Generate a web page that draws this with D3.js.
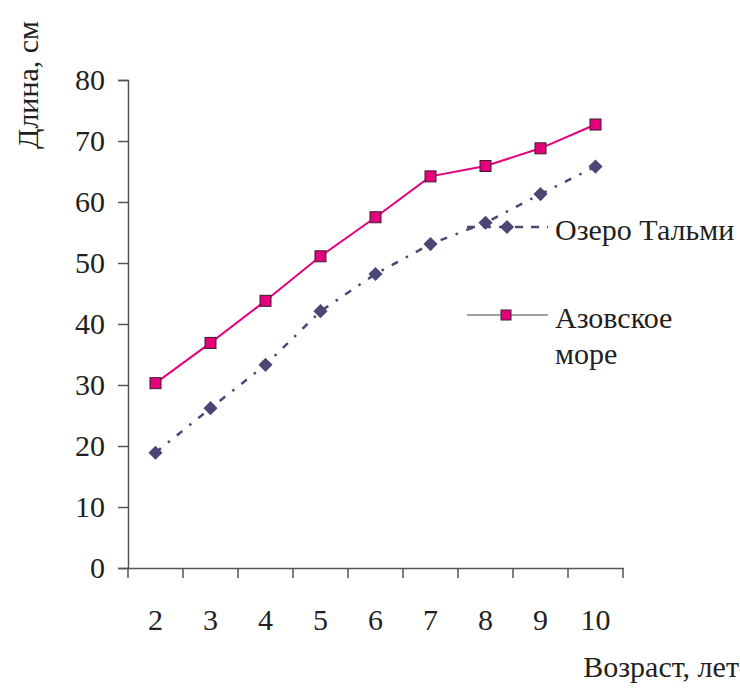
<!DOCTYPE html>
<html>
<head>
<meta charset="utf-8">
<script src="https://cdn.jsdelivr.net/npm/d3@7"></script>
<style>
  body { margin: 0; background: #fff; }
  svg text { font-family: 'Liberation Serif', 'Times New Roman', 'DejaVu Serif', serif !important; fill: #231f20; }
</style>
</head>
<body>
<svg id="chart" width="740" height="688"></svg>
<script>
var ages = ["2", "3", "4", "5", "6", "7", "8", "9", "10"];
var azov = [30.3, 36.9, 43.8, 51.1, 57.5, 64.2, 65.9, 68.8, 72.7];
var talmi = [18.9, 26.2, 33.3, 42.1, 48.2, 53.1, 56.6, 61.3, 65.8];
var yTicks = [0, 10, 20, 30, 40, 50, 60, 70, 80];
var seriesNames = ["Озеро Тальми", "Азовское море"];

var svg = d3.select("#chart");
var axisColor = "#555";
var serif = "'Liberation Serif', 'Times New Roman', serif";
var fontSize = 30;

var x = d3.scaleBand().domain(ages).range([128, 623]);
var y = d3.scaleLinear().domain([0, 80]).range([568, 80]);

// y axis
var yAxis = svg.append("g")
    .attr("transform", "translate(128,0)")
    .call(d3.axisLeft(y).tickValues(yTicks).tickSize(10).tickPadding(13));
yAxis.attr("font-family", serif).attr("font-size", fontSize);
yAxis.select(".domain").attr("stroke", axisColor).attr("stroke-width", 1.5);
yAxis.selectAll(".tick line").attr("stroke", axisColor).attr("stroke-width", 1.5);
yAxis.selectAll(".tick text").attr("fill", "#231f20");

// x axis (labels at band centres, ticks at band edges)
var xAxis = svg.append("g")
    .attr("transform", "translate(0,568)")
    .call(d3.axisBottom(x).tickSize(0).tickPadding(41));
xAxis.attr("font-family", serif).attr("font-size", fontSize);
xAxis.select(".domain").attr("stroke", axisColor).attr("stroke-width", 1.5);
xAxis.selectAll(".tick text").attr("fill", "#231f20");

var edges = ages.map(function (d) { return x(d); }).concat([x.range()[1]]);
svg.append("g").selectAll("line")
    .data(edges)
    .enter().append("line")
    .attr("x1", function (d) { return d; })
    .attr("x2", function (d) { return d; })
    .attr("y1", 568)
    .attr("y2", 578)
    .attr("stroke", axisColor)
    .attr("stroke-width", 1.5);

var labels = svg.append("g")
    .attr("font-family", serif)
    .attr("font-size", fontSize);

// axis titles
labels.append("text")
    .attr("transform", "translate(38,85) rotate(-90)")
    .attr("text-anchor", "middle")
    .text("Длина, см");

labels.append("text")
    .attr("x", 739)
    .attr("y", 677)
    .attr("text-anchor", "end")
    .text("Возраст, лет");

var line = d3.line()
    .x(function (d, i) { return x(ages[i]) + x.bandwidth() / 2; })
    .y(function (d) { return y(d); });

// Озеро Тальми
svg.append("path")
    .datum(talmi)
    .attr("d", line)
    .attr("fill", "none")
    .attr("stroke", "#4a4777")
    .attr("stroke-width", 2.5)
    .attr("stroke-dasharray", "7,9,2.5,9");

function drawDiamond(g, cx, cy) {
    g.append("rect")
        .attr("x", -5).attr("y", -5)
        .attr("width", 10).attr("height", 10)
        .attr("transform", "translate(" + cx + "," + cy + ") rotate(45)")
        .attr("fill", "#4a4777");
}

var talmiMarks = svg.append("g");
talmi.forEach(function (d, i) {
    drawDiamond(talmiMarks, x(ages[i]) + x.bandwidth() / 2, y(d));
});

// Азовское море
svg.append("path")
    .datum(azov)
    .attr("d", line)
    .attr("fill", "none")
    .attr("stroke", "#e5007d")
    .attr("stroke-width", 2);

svg.append("g").selectAll("rect")
    .data(azov)
    .enter().append("rect")
    .attr("x", function (d, i) { return x(ages[i]) + x.bandwidth() / 2 - 5.5; })
    .attr("y", function (d) { return y(d) - 5.5; })
    .attr("width", 11)
    .attr("height", 11)
    .attr("fill", "#e5007d")
    .attr("stroke", "#3a1a2a")
    .attr("stroke-width", 1);

// legend
svg.append("line")
    .attr("x1", 467).attr("x2", 548)
    .attr("y1", 227).attr("y2", 227)
    .attr("stroke", "#4a4777")
    .attr("stroke-width", 2.5)
    .attr("stroke-dasharray", "8,8");
drawDiamond(svg, 507, 227);
labels.append("text")
    .attr("x", 555)
    .attr("y", 240)
    .text(seriesNames[0]);

svg.append("line")
    .attr("x1", 467).attr("x2", 548)
    .attr("y1", 315).attr("y2", 315)
    .attr("stroke", "#444")
    .attr("stroke-width", 1);
svg.append("rect")
    .attr("x", 501).attr("y", 310)
    .attr("width", 10).attr("height", 10)
    .attr("fill", "#e5007d")
    .attr("stroke", "#3a1a2a")
    .attr("stroke-width", 1);
var words = seriesNames[1].split(" ");
labels.append("text")
    .attr("x", 555)
    .attr("y", 328)
    .text(words[0]);
labels.append("text")
    .attr("x", 555)
    .attr("y", 364)
    .text(words[1]);
</script>
</body>
</html>
